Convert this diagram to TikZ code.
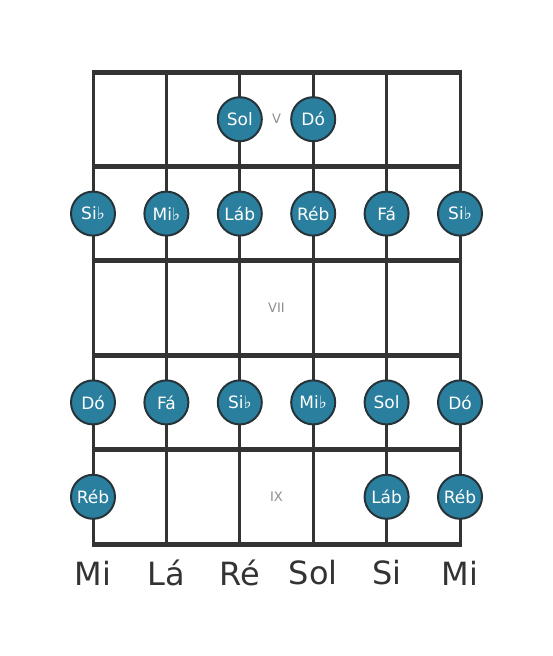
\documentclass[tikz,border=0pt]{standalone}
\usepackage{fontspec}
\setmainfont{DejaVu Sans}
\usetikzlibrary{positioning}

\definecolor{notefill}{HTML}{2A7F9E}
\definecolor{gridline}{HTML}{333333}
\definecolor{ringline}{HTML}{26343A}

\tikzset{
  note/.style={circle,draw=ringline,line width=2pt,fill=notefill,text=white,
    minimum size=44pt,inner sep=0pt,font=\fontsize{17}{17}\selectfont},
  fretline/.style={gridline,line width=5pt},
  stringline/.style={gridline,line width=3pt},
  fretnum/.style={text=gray!90,font=\fontsize{13}{13}\selectfont},
  stringname/.style={text=gridline,font=\fontsize{32}{32}\selectfont}
}

\begin{document}
\begin{tikzpicture}[x=1pt,y=-1pt]
  \useasboundingbox (0,0) rectangle (553,656);

  % strings: top and bottom ends
  \foreach \i/\x in {1/93,2/166.4,3/239.8,4/313.2,5/386.6,6/460} {
    \coordinate (top\i) at (\x,72);
    \coordinate (bot\i) at (\x,544);
    \draw[stringline] (top\i) -- (bot\i);
  }

  % frets
  \foreach \j/\y in {0/72,1/166.4,2/260.8,3/355.2,4/449.6,5/544} {
    \coordinate (fl\j) at (91.5,\y);
    \coordinate (fr\j) at (461.5,\y);
    \draw[fretline] (fl\j) -- (fr\j);
  }

  % fret numbers
  \node[fretnum] (fv)   at (276.5,119.2) {V};
  \node[fretnum] (fvii) at (276.5,308)   {VII};
  \node[fretnum] (fix)  at (276.5,496.8) {IX};

  % notes
  \node[note] (n1c) at (239.8,119.2) {Sol};
  \node[note] (n1d) at (313.2,119.2) {Dó};

  \foreach \i/\x/\name in {a/93/Si♭,b/166.4/Mi♭,c/239.8/Láb,d/313.2/Réb,e/386.6/Fá,f/460/Si♭}
    \node[note] (n2\i) at (\x,213.6) {\name};

  \foreach \i/\x/\name in {a/93/Dó,b/166.4/Fá,c/239.8/Si♭,d/313.2/Mi♭,e/386.6/Sol,f/460/Dó}
    \node[note] (n4\i) at (\x,402.4) {\name};

  \node[note] (n5a) at (93,496.8)    {Réb};
  \node[note] (n5e) at (386.6,496.8) {Láb};
  \node[note] (n5f) at (460,496.8)   {Réb};

  % open string names
  \foreach \i/\x/\name in {1/93/Mi,2/166.4/Lá,3/239.8/Ré,4/313.2/Sol,5/386.6/Si,6/460/Mi}
    \node[stringname] (open\i) at (\x,573) {\name};
\end{tikzpicture}
\end{document}
